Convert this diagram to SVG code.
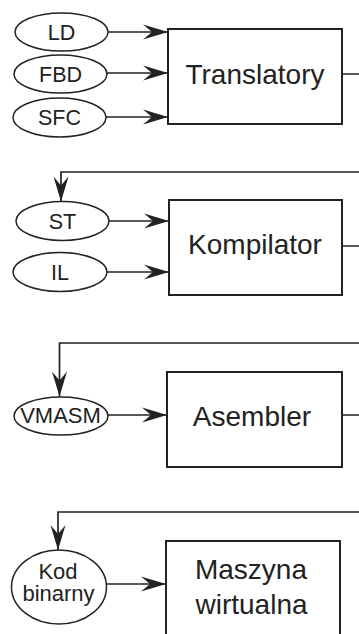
<svg xmlns="http://www.w3.org/2000/svg" width="359" height="634" viewBox="0 0 359 634">
  <style>
    .box { fill: #fff; stroke: #222; stroke-width: 2; }
    .src { fill: #fff; stroke: #222; stroke-width: 1.5; }
    .lbl { font-family: "Liberation Sans", Arial, sans-serif; fill: #222; text-anchor: middle; }
    .big { font-size: 28px; }
    .small { font-size: 21.5px; }
    .tight { font-size: 22px; }
    .edge { fill: none; stroke: #222; stroke-width: 1.7; marker-end: url(#arrow); }
  </style>
  <defs>
    <marker id="arrow" viewBox="-26 -9 27 18" markerWidth="27" markerHeight="18" refX="0" refY="0" orient="auto" markerUnits="userSpaceOnUse">
      <path d="M0,0 L-25,-7.5 L-16,0 L-25,7.5 Z" fill="#222"/>
    </marker>
  </defs>

  <g id="connectors">
    <path class="edge" d="M108,32 H168"/>
    <path class="edge" d="M107,73 H168"/>
    <path class="edge" d="M106,117 H168"/>
    <path class="edge" d="M342,74 H380 V172 H61 V201.5"/>
    <path class="edge" d="M109,221 H169"/>
    <path class="edge" d="M107,272 H169"/>
    <path class="edge" d="M342,246 H380 V343 H59.5 V396.5"/>
    <path class="edge" d="M108,415 H167"/>
    <path class="edge" d="M342,415 H380 V512 H58 V550"/>
    <path class="edge" d="M106.5,584 H166"/>
  </g>

  <g id="ld">
    <ellipse class="src" cx="61.5" cy="32" rx="46.5" ry="19"/>
    <text class="lbl small" x="61.5" y="39.5">LD</text>
  </g>
  <g id="fbd">
    <ellipse class="src" cx="60.5" cy="74" rx="46.5" ry="19"/>
    <text class="lbl small" x="60.5" y="81.5">FBD</text>
  </g>
  <g id="sfc">
    <ellipse class="src" cx="59.5" cy="117.5" rx="46.5" ry="19.5"/>
    <text class="lbl small" x="59.5" y="124.5">SFC</text>
  </g>
  <g id="translatory">
    <rect class="box" x="168" y="29" width="174" height="95"/>
    <text class="lbl big" x="255" y="83.5">Translatory</text>
  </g>

  <g id="st">
    <ellipse class="src" cx="62.5" cy="221" rx="46.5" ry="19.5"/>
    <text class="lbl small" x="62.5" y="228.5">ST</text>
  </g>
  <g id="il">
    <ellipse class="src" cx="60" cy="272" rx="47" ry="19.5"/>
    <text class="lbl small" x="60" y="279.5">IL</text>
  </g>
  <g id="kompilator">
    <rect class="box" x="169" y="200" width="173" height="95"/>
    <text class="lbl big" x="255" y="253.5">Kompilator</text>
  </g>

  <g id="vmasm">
    <ellipse class="src" cx="61" cy="416" rx="47" ry="19"/>
    <text class="lbl tight" x="60.5" y="423">VMASM</text>
  </g>
  <g id="asembler">
    <rect class="box" x="167" y="372" width="175" height="95"/>
    <text class="lbl big" x="252" y="426">Asembler</text>
  </g>

  <g id="kod-binarny">
    <ellipse class="src" cx="59" cy="587" rx="47.5" ry="37"/>
    <text class="lbl tight" x="58" y="578.5">Kod</text>
    <text class="lbl tight" x="58.5" y="601">binarny</text>
  </g>
  <g id="maszyna-wirtualna">
    <rect class="box" x="166" y="541" width="174" height="110"/>
    <text class="lbl big" x="251" y="578.5">Maszyna</text>
    <text class="lbl big" x="251.5" y="613.5">wirtualna</text>
  </g>
</svg>
